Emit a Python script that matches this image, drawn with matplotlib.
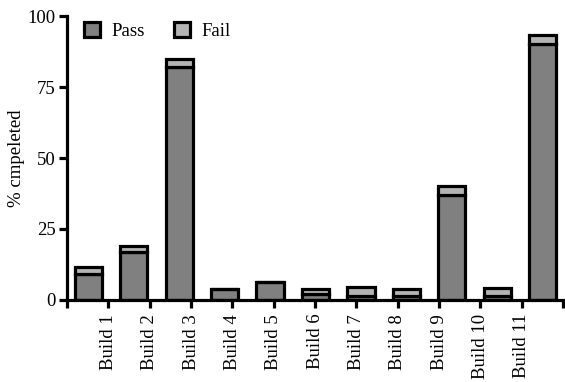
import numpy as np
import matplotlib
matplotlib.use('Agg')
import matplotlib.pyplot as plt

# Build results: percentage of tests completed
builds = ['Build 1', 'Build 2', 'Build 3', 'Build 4', 'Build 5', 'Build 6',
          'Build 7', 'Build 8', 'Build 9', 'Build 10', 'Build 11']
passed = [9, 17, 82, 3.8, 6.5, 2, 1.5, 1.5, 37, 1.5, 90]
failed = [2.5, 2, 3, 0, 0, 1.8, 3, 2.3, 3, 2.8, 3.3]

plt.rcParams['font.family'] = ['Liberation Serif', 'DejaVu Serif']
plt.rcParams['font.size'] = 13.5

fig = plt.figure(figsize=(5.65, 3.82), dpi=100)
ax = fig.add_axes([0.1186, 0.2147, 0.8779, 0.7433])

x = np.arange(len(builds))
edge = dict(edgecolor='black', linewidth=2.3)
ax.bar(x, passed, width=0.6, color='#808080', label='Pass', **edge)
ax.bar(x, failed, width=0.6, bottom=passed, color='#b4b4b4', label='Fail', **edge)

xlim = (-0.47, 10.45)
ax.set_xlim(xlim)
ax.set_ylim(0, 100)
ax.set_xticks(np.linspace(xlim[0], xlim[1], 13))
ax.set_xticklabels([''] + builds + [''], rotation=90, va='top', ha='center')
ax.set_yticks([0, 25, 50, 75, 100])
ax.set_ylabel('% cmpeleted', labelpad=2)

for side in ['top', 'right']:
    ax.spines[side].set_visible(False)
for side in ['left', 'bottom']:
    ax.spines[side].set_linewidth(2.3)
ax.tick_params(axis='both', direction='out', length=6, width=2.3)
ax.tick_params(axis='x', pad=4)
ax.tick_params(axis='y', pad=2)

ax.legend(loc='upper left', bbox_to_anchor=(0.0, 1.04), ncol=2, frameon=False,
          handlelength=0.85, handleheight=0.85, handletextpad=0.6,
          columnspacing=1.6)

fig.savefig('out.png', dpi=100)
